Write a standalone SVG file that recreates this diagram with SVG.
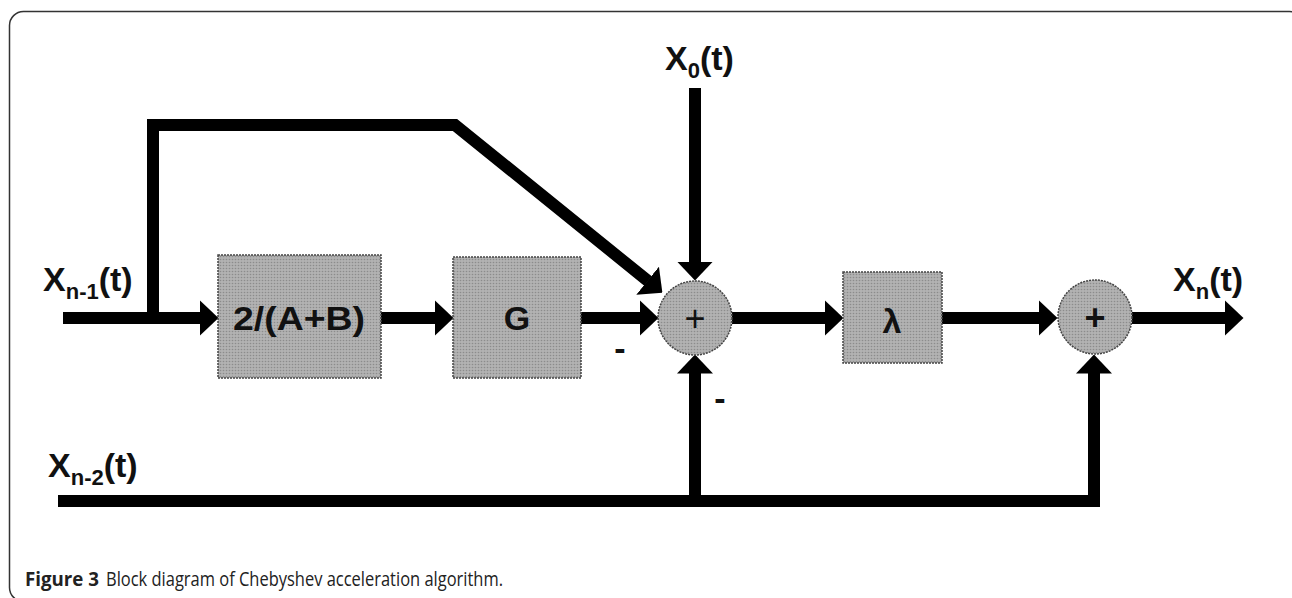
<svg xmlns="http://www.w3.org/2000/svg" width="1292" height="598" viewBox="0 0 1292 598">
<style>
.lbl{font-family:"Liberation Sans",Arial,sans-serif;font-weight:bold;font-size:34px;fill:#111}
.sub{font-size:22px}
.blk{fill:url(#dots);stroke:#444;stroke-width:1.5;stroke-dasharray:2 1}
.wire{fill:none;stroke:#000;stroke-width:12;stroke-linejoin:miter}
.arr{marker-end:url(#ah)}
.plus{font-family:"Liberation Sans",Arial,sans-serif;font-size:36px;fill:#111;text-anchor:middle}
.cap{font-family:"Open Sans","Liberation Sans",sans-serif;font-size:20px;fill:#222}
</style>
<defs>
<pattern id="dots" width="3" height="3" patternUnits="userSpaceOnUse">
<rect width="3" height="3" fill="#b2b2b2"/>
<circle cx="1.5" cy="1.5" r="0.8" fill="#8c8c8c"/>
</pattern>
<marker id="ah" markerUnits="userSpaceOnUse" markerWidth="19" markerHeight="36" viewBox="0 0 19 36" refX="0.5" refY="18" orient="auto">
<polygon points="0,0 19,18 0,36" fill="#000"/>
</marker>
</defs>
<rect x="9.5" y="11.5" width="1294" height="590" rx="14" fill="#fff" stroke="#333" stroke-width="1.5"/>

<g id="connectors">
<path class="wire arr" d="M63,318 H200"/>
<path class="wire arr" d="M153,318 V125 H455 L648,281"/>
<path class="wire arr" d="M381,318 H435"/>
<path class="wire arr" d="M581,318 H640"/>
<path class="wire arr" d="M695,88 V262"/>
<path class="wire arr" d="M732,318 H825"/>
<path class="wire arr" d="M942,318 H1039"/>
<path class="wire arr" d="M1132,318 H1225"/>
<path class="wire arr" d="M58,501 H1094 V373"/>
<path class="wire arr" d="M695,501 V373"/>
</g>

<g id="block-ab">
<rect class="blk" x="218" y="255" width="163" height="123"/>
<text class="lbl" x="299" y="330" text-anchor="middle" textLength="132" lengthAdjust="spacingAndGlyphs">2/(A+B)</text>
</g>
<g id="block-g">
<rect class="blk" x="453" y="257" width="128" height="121"/>
<text class="lbl" x="517" y="330" text-anchor="middle">G</text>
</g>
<g id="sum1">
<circle class="blk" cx="695" cy="318" r="37"/>
<text class="plus" x="695" y="331">+</text>
</g>
<g id="block-lambda">
<rect class="blk" x="843" y="272" width="99" height="91"/>
<text class="lbl" x="892" y="333" text-anchor="middle" font-size="40">λ</text>
</g>
<g id="sum2">
<circle class="blk" cx="1095" cy="317" r="37"/>
<text class="plus" x="1095" y="330" font-weight="bold">+</text>
</g>

<g id="labels">
<text class="lbl" x="43" y="291">X<tspan class="sub" dy="8">n-1</tspan><tspan dy="-8">(t)</tspan></text>
<text class="lbl" x="48" y="477">X<tspan class="sub" dy="8">n-2</tspan><tspan dy="-8">(t)</tspan></text>
<text class="lbl" x="665" y="70">X<tspan class="sub" dy="8">0</tspan><tspan dy="-8">(t)</tspan></text>
<text class="lbl" x="1173" y="291">X<tspan class="sub" dy="8">n</tspan><tspan dy="-8">(t)</tspan></text>
<text class="lbl" x="620" y="360" text-anchor="middle">-</text>
<text class="lbl" x="720" y="410" text-anchor="middle">-</text>
</g>

<g id="caption">
<text class="cap" x="25" y="586" font-weight="bold" textLength="74" lengthAdjust="spacingAndGlyphs">Figure 3</text>
<text class="cap" x="106" y="586" textLength="397" lengthAdjust="spacingAndGlyphs">Block diagram of Chebyshev acceleration algorithm.</text>
</g>
</svg>
